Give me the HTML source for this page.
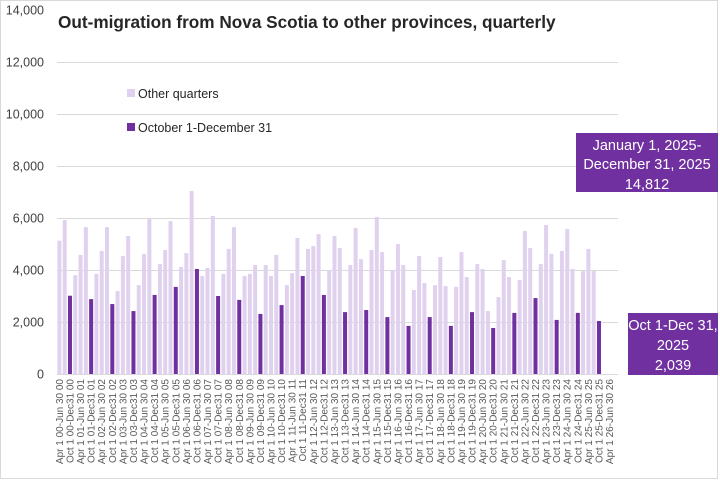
<!DOCTYPE html>
<html><head><meta charset="utf-8"><style>
html,body{margin:0;padding:0;background:#fff;}
svg{display:block;font-family:"Liberation Sans",sans-serif;}
</style></head><body>
<svg id="c" width="720" height="481" viewBox="0 0 720 481" xmlns="http://www.w3.org/2000/svg">
<rect x="0.5" y="0.5" width="717" height="478" fill="#fff" stroke="#d9d9d9"/>
<g id="grid" stroke="#d9d9d9" stroke-width="1"></g>
<g id="ylab" font-size="12.5" fill="#404040" text-anchor="end"></g>
<g id="bars"></g>
<g id="xlab" font-size="10" fill="#595959"></g>
<text x="58" y="28" font-size="17.2" font-weight="bold" fill="#262626">Out-migration from Nova Scotia to other provinces, quarterly</text>
<rect x="127" y="89" width="8" height="8" fill="#e0d2ee"/>
<text x="138" y="98" font-size="12.5" fill="#262626">Other quarters</text>
<rect x="127" y="123" width="8" height="8" fill="#7030a0"/>
<text x="138" y="132" font-size="12.5" fill="#262626">October 1-December 31</text>
<rect x="576" y="133" width="142" height="59" fill="#7030a0"/>
<g font-size="14.5" fill="#fff" text-anchor="middle">
<text x="647" y="150">January 1, 2025-</text>
<text x="647" y="169">December 31, 2025</text>
<text x="647" y="189">14,812</text>
</g>
<rect x="628" y="313" width="90" height="62" fill="#7030a0"/>
<g font-size="14.5" fill="#fff" text-anchor="middle">
<text x="673" y="330">Oct 1-Dec 31,</text>
<text x="673" y="350">2025</text>
<text x="673" y="370">2,039</text>
</g>
</svg>
<script>
var ns="http://www.w3.org/2000/svg";
function el(p,t,a,txt){var e=document.createElementNS(ns,t);for(var k in a)e.setAttribute(k,a[k]);if(txt!=null)e.textContent=txt;document.getElementById(p).appendChild(e);}
var y0=374,s=0.026;
for(var v=0;v<=14000;v+=2000){var y=y0-v*s;
 if(v>0&&v<14000)el("grid","line",{x1:57,x2:618,y1:y+0.5,y2:y+0.5});
 el("ylab","text",{x:44,y:y+4.5},v.toLocaleString("en-US"));}
el("grid","line",{x1:57,x2:618,y1:374.5,y2:374.5});
var d=[5130,5920,3010,3800,4580,5650,2880,3850,4730,5650,2690,3190,4540,5310,2420,3420,4620,5990,3040,4230,4770,5880,3350,4115,4650,7040,4040,3770,4080,6080,3000,3850,4810,5650,2850,3770,3850,4190,2310,4190,3770,4580,2650,3420,3880,5230,3770,4810,4920,5380,3040,4000,5310,4850,2380,4190,5620,4420,2460,4770,6040,4690,2190,4000,5000,4190,1850,3230,4540,3500,2190,3420,4500,3380,1850,3350,4690,3730,2380,4230,4040,2420,1770,2960,4380,3730,2350,3620,5500,4850,2920,4230,5730,4620,2080,4730,5580,4040,2350,3960,4810,3960,2039];
var x0=59.4,dx=5.29;
d.forEach(function(v,i){var cx=x0+i*dx,h=v*s;
 el("bars","rect",{x:cx-2,y:y0-h,width:4,height:h,fill:(i%4==2)?"#7030a0":"#e0d2ee"});});
for(var i=0;i<=104;i+=2){var cx=x0+i*dx;
 var year=Math.floor((i+1)/4);
 var qi=(i+1)%4;
 var Y=String(year).padStart(2,"0");
 var t=(qi==1)?("Apr 1 "+Y+"-Jun 30 "+Y):("Oct 1 "+Y+"-Dec31 "+Y);
 el("xlab","text",{x:0,y:0,"text-anchor":"end",transform:"translate("+(cx+3.5)+",379) rotate(-90)"},t);}
</script>
</body></html>
